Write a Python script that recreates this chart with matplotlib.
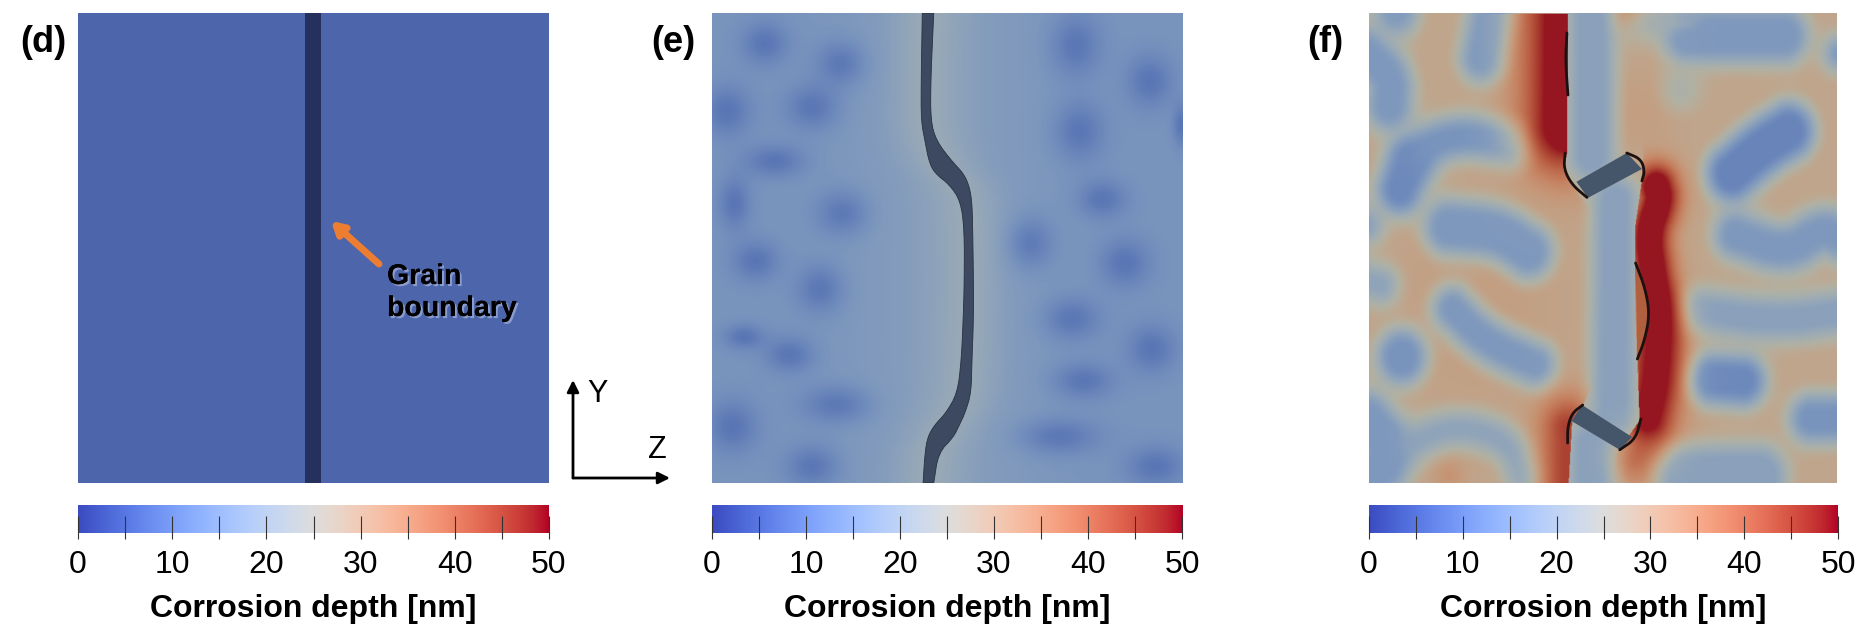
import numpy as np
import matplotlib
matplotlib.use("Agg")
import matplotlib.pyplot as plt
import matplotlib.patheffects as pe
from matplotlib.colors import ListedColormap
from matplotlib.path import Path

plt.rcParams['font.family'] = ['Liberation Sans', 'DejaVu Sans']

W, H = 1857, 630
PANEL_LABELS = ["(d)", "(e)", "(f)"]
CBAR_LABEL = "Corrosion depth [nm]"
CBAR_TICKS = [0, 5, 10, 15, 20, 25, 30, 35, 40, 45, 50]
CBAR_TICK_LABELS = ["0", "", "10", "", "20", "", "30", "", "40", "", "50"]

# panel (d), flat field with a straight boundary
D_DEPTH = 6.0
D_GB = [48.2, 51.6]

# panel (e): pits, x, y, rx, ry
E_BASE = 14.0
E_PITS = [(325, 105, 48, 42), (525, 155, 52, 45), (225, 275, 50, 50), (450, 265, 55, 45),
          (350, 400, 62, 32), (245, 505, 33, 52), (530, 530, 55, 45), (300, 650, 48, 40),
          (470, 720, 48, 48), (270, 840, 42, 25), (390, 885, 50, 35), (515, 1010, 72, 38),
          (240, 1065, 52, 52), (450, 1165, 55, 42), (1140, 110, 52, 62), (1335, 200, 48, 52),
          (1150, 325, 52, 58), (1418, 310, 18, 40), (1210, 495, 50, 38), (1020, 605, 48, 52),
          (1270, 655, 52, 48), (1130, 795, 58, 42), (1340, 870, 50, 48), (1160, 950, 62, 36),
          (1095, 1090, 82, 36), (1350, 1165, 60, 40)]
E_GB_Y = [30, 200, 300, 350, 400, 430, 460, 500, 570, 700, 800, 900, 980, 1030, 1060, 1090, 1130, 1205]
E_GB_LEFT = [738, 735, 735, 745, 755, 770, 810, 838, 848, 848, 845, 840, 830, 800, 770, 752, 745, 740]
E_GB_RIGHT = [768, 760, 760, 775, 815, 845, 860, 868, 870, 872, 872, 868, 866, 850, 835, 820, 780, 768]

# panel (f): shallow regions as strokes, radius and depth
F_BASE = 29.0
F_SHALLOW = [
    ([(185, 130), (255, 190), (250, 260)], 66, 15),
    ([(270, 25)], 62, 16),
    ([(515, 140), (540, 20)], 64, 15),
    ([(315, 400), (380, 350), (480, 335), (600, 360)], 54, 14),
    ([(310, 400), (280, 470)], 66, 12),
    ([(420, 565), (560, 575), (645, 625)], 72, 15),
    ([(185, 560)], 44, 17),
    ([(185, 700), (225, 710)], 48, 18),
    ([(285, 890)], 72, 14),
    ([(430, 770), (520, 850), (665, 910)], 58, 15),
    ([(185, 1050), (260, 1130), (185, 1205)], 78, 15),
    ([(300, 1110), (440, 1060), (590, 1100), (630, 1190)], 46, 18),
    ([(1100, 85), (1250, 85), (1370, 85)], 72, 15),
    ([(950, 45), (1100, 60)], 44, 22),
    ([(1080, 220)], 50, 24),
    ([(1385, 325), (1310, 365), (1225, 430)], 74, 11),
    ([(1235, 585), (1380, 630), (1480, 570), (1530, 590)], 62, 15),
    ([(1530, 130)], 42, 15),
    ([(1130, 775), (1350, 800), (1530, 780)], 56, 17),
    ([(1165, 945), (1255, 950)], 66, 12),
    ([(1450, 1045), (1530, 1045)], 62, 14),
    ([(1090, 1190), (1300, 1190)], 82, 17),
    ([(825, 20), (825, 385)], 68, 17),
    ([(892, 500), (888, 1050)], 66, 17),
    ([(825, 1110), (825, 1215)], 68, 17),
]
F_WARM = [(500, 760, 260, 2), (960, 280, 110, 2), (950, 1140, 75, 9), (930, 25, 45, 8), (420, 1190, 50, 4)]
# deep zones next to the boundary: mask outline, source line, width, gain
F_DEEP_MASKS = [[(193, 30), (758, 30), (755, 380), (745, 420), (800, 500), (830, 530), (830, 760), (193, 760)],
                [(975, 330), (1300, 330), (1300, 1210), (880, 1210), (900, 1125), (962, 1050),
                 (950, 800), (950, 560), (968, 450)],
                [(952, 700), (1300, 700), (1300, 1210), (880, 1210), (900, 1125), (962, 1050)],
                [(193, 850), (825, 850), (825, 970), (800, 1010), (770, 1050), (760, 1205), (193, 1205)]]
F_DEEP_LINES = [[(758, 30), (755, 310)],
                [(1010, 465), (1020, 495), (985, 580), (1000, 680), (1020, 780), (1010, 950), (985, 1040)],
                [(990, 850), (980, 1020)],
                [(760, 1070), (760, 1205)]]
F_DEEP_WIDTH = [128, 62, 100, 85]
F_DEEP_GAIN = [1.3, 1.35, 0.6, 0.85]
F_GB_BANDS = [[(782, 452), (925, 380), (968, 420), (815, 492)],
              [(798, 1010), (940, 1090), (905, 1122), (768, 1050)]]
F_GB_EDGES = [[(755, 80), (751, 150), (758, 235)],
              [(750, 380), (746, 420), (770, 460), (812, 491)],
              [(925, 380), (965, 395), (976, 425), (968, 450)],
              [(800, 1010), (770, 1030), (757, 1065), (757, 1105)],
              [(965, 1045), (950, 1095), (905, 1122)],
              [(950, 655), (978, 720), (990, 785), (975, 850), (955, 895)]]

cmap_bar = plt.get_cmap("coolwarm")
cmap_lit = ListedColormap(cmap_bar(np.linspace(0, 1, 256))[:, :3] * np.array([0.8, 0.8, 0.74]))


def add_axes_px(x0, y0, x1, y1):
    return fig.add_axes([x0 / W, 1 - y1 / H, (x1 - x0) / W, (y1 - y0) / H])


def smooth_pts(pts, n=3):
    # corner cutting so read outlines do not look faceted
    pts = np.array(pts, float)
    if len(pts) < 3:
        return pts
    for _ in range(n):
        q = 0.75 * pts[:-1] + 0.25 * pts[1:]
        r = 0.25 * pts[:-1] + 0.75 * pts[1:]
        mid = np.empty((2 * len(q), 2))
        mid[0::2] = q
        mid[1::2] = r
        pts = np.vstack([pts[0], mid, pts[-1]])
    return pts


def line_dist(xx, yy, pts):
    if len(pts) == 1:
        return np.hypot(xx - pts[0][0], yy - pts[0][1])
    d = np.full(xx.shape, np.inf)
    for (ax_, ay_), (bx_, by_) in zip(pts[:-1], pts[1:]):
        dx, dy = bx_ - ax_, by_ - ay_
        t = np.clip(((xx - ax_) * dx + (yy - ay_) * dy) / (dx * dx + dy * dy), 0, 1)
        d = np.minimum(d, np.hypot(xx - ax_ - t * dx, yy - ay_ - t * dy))
    return d


def e_field():
    x = np.linspace(187, 1421, 500)
    y = np.linspace(30, 1205, 480)
    xx, yy = np.meshgrid(x, y)
    z = np.full(xx.shape, E_BASE)
    for px, py, rx, ry in E_PITS:
        z -= 5.5 * np.exp(-((xx - px) / (rx * 1.25)) ** 2 - ((yy - py) / (ry * 1.25)) ** 2)
    centre = (np.array(E_GB_LEFT) + np.array(E_GB_RIGHT)) / 2
    gb_x = np.interp(yy, E_GB_Y, centre)
    z += 3.5 * np.exp(-((xx - gb_x) / 85) ** 2) + 2.5 * np.exp(-((xx - 790) / 240) ** 2)
    return z


def f_field():
    x = np.linspace(193, 1522, 640)
    y = np.linspace(30, 1205, 560)
    xx, yy = np.meshgrid(x, y)
    z = np.full(xx.shape, F_BASE)
    for px, py, s, a in F_WARM[:2]:
        z += a * np.exp(-((xx - px) / s) ** 2 - ((yy - py) / s) ** 2)
    # smooth union of the strokes so neighbours merge
    k = 18.0
    soft = 44.0
    acc = np.zeros(xx.shape)
    acc_lev = np.zeros(xx.shape)
    for pts, r, lev in F_SHALLOW:
        d = line_dist(xx, yy, smooth_pts(pts, 2)) - r
        e = np.exp(np.clip(-d / k, -40, 12))
        acc += e
        acc_lev += e * lev
    sd = -k * np.log(acc + 1e-30)
    level = acc_lev / (acc + 1e-30)
    t = np.clip((soft - sd) / (2 * soft), 0, 1)
    t = t * t * (3 - 2 * t)
    z = z + (level - z) * t
    for px, py, s, a in F_WARM[2:]:
        z += a * np.exp(-((xx - px) / s) ** 2 - ((yy - py) / s) ** 2)
    pts2 = np.column_stack([xx.ravel(), yy.ravel()])
    for mask, src, w, gain in zip(F_DEEP_MASKS, F_DEEP_LINES, F_DEEP_WIDTH, F_DEEP_GAIN):
        m = Path(mask).contains_points(pts2).reshape(xx.shape)
        d = line_dist(xx, yy, smooth_pts(src, 2))
        a = np.minimum(gain * np.exp(-(d / w) ** 2), 1.0)
        z = np.where(m, z + (49 - z) * a, z)
    return z


fig = plt.figure(figsize=(W / 100, H / 100), dpi=100)

panels = [(78, 549), (712, 1183), (1369, 1837)]
cbars = [(78, 549), (712, 1182), (1369, 1838)]
top, bottom = 13, 483

# panel d
ax = add_axes_px(panels[0][0], top, panels[0][1], bottom)
ax.imshow([[D_DEPTH]], cmap=cmap_lit, vmin=0, vmax=50, extent=(0, 100, 100, 0), aspect="auto")
ax.axvspan(D_GB[0], D_GB[1], color="#26305c", lw=0)
ax.axis("off")

# panel e
ax = add_axes_px(panels[1][0], top, panels[1][1], bottom)
ax.imshow(e_field(), cmap=cmap_lit, vmin=0, vmax=50, extent=(187, 1421, 1205, 30),
          aspect="auto", interpolation="bilinear")
left = smooth_pts(np.column_stack([E_GB_LEFT, E_GB_Y]), 2)
right = smooth_pts(np.column_stack([E_GB_RIGHT, E_GB_Y]), 2)
ax.fill(np.r_[left[:, 0], right[::-1, 0]], np.r_[left[:, 1], right[::-1, 1]],
        facecolor="#3c4960", edgecolor="#2a3040", lw=0.6)
ax.set_xlim(187, 1421)
ax.set_ylim(1205, 30)
ax.axis("off")

# panel f
ax = add_axes_px(panels[2][0], top, panels[2][1], bottom)
ax.imshow(f_field(), cmap=cmap_lit, vmin=0, vmax=50, extent=(193, 1522, 1205, 30),
          aspect="auto", interpolation="bilinear")
for band in F_GB_BANDS:
    ax.fill(*zip(*band), facecolor="#46566a", edgecolor="none")
ax.fill(*smooth_pts(F_GB_EDGES[5]).T, facecolor="#b0603f", edgecolor="none")
for edge in F_GB_EDGES:
    ax.plot(*smooth_pts(edge).T, color="#1d1110", lw=2, solid_capstyle="round")
ax.set_xlim(193, 1522)
ax.set_ylim(1205, 30)
ax.axis("off")

# colorbars
grad = np.linspace(0, 50, 512)[None, :]
for (x0, x1) in cbars:
    cax = add_axes_px(x0, 505, x1, 533)
    cax.imshow(grad, cmap=cmap_bar, vmin=0, vmax=50, extent=(0, 50, 0, 1), aspect="auto")
    cax.vlines(CBAR_TICKS, -0.2, 0.6, color="#333333", lw=0.8, clip_on=False)
    cax.set_ylim(0, 1)
    cax.set_xlim(0, 50)
    cax.set_yticks([])
    for s in cax.spines.values():
        s.set_visible(False)
    cax.set_xticks(CBAR_TICKS)
    cax.set_xticklabels(CBAR_TICK_LABELS, fontsize=23)
    cax.tick_params(axis="x", length=0, pad=12)
    cax.set_xlabel(CBAR_LABEL, fontsize=23, fontweight="bold", labelpad=10)

# overlay in picture pixels for labels and arrows
ov = fig.add_axes([0, 0, 1, 1], zorder=5)
ov.set_xlim(0, W)
ov.set_ylim(H, 0)
ov.axis("off")
ov.patch.set_alpha(0)
for (lx, txt) in zip([20, 651, 1307], PANEL_LABELS):
    ov.text(lx, 42, txt, fontsize=26, fontweight="bold", va="center", ha="left")

ov.annotate("", xy=(331, 221), xytext=(379, 264),
            arrowprops=dict(arrowstyle="-|>,head_width=0.4,head_length=0.7", color="#ed7d31",
                            lw=5, shrinkA=0, shrinkB=0))
ov.text(387, 293, "Grain\nboundary", fontsize=20.5, fontweight="bold", va="center", ha="left",
        linespacing=1.3,
        path_effects=[pe.withSimplePatchShadow(offset=(1.5, -1.5), shadow_rgbFace="#c8d2ee", alpha=0.5),
                      pe.Normal()])

ov.annotate("", xy=(573, 380), xytext=(573, 478),
            arrowprops=dict(arrowstyle="-|>,head_width=0.35,head_length=0.7", color="black",
                            lw=2, shrinkA=0, shrinkB=0))
ov.annotate("", xy=(670, 478), xytext=(573, 478),
            arrowprops=dict(arrowstyle="-|>,head_width=0.35,head_length=0.7", color="black",
                            lw=2, shrinkA=0, shrinkB=0))
ov.text(598, 394, "Y", fontsize=22, va="center", ha="center")
ov.text(657, 450, "Z", fontsize=22, va="center", ha="center")

fig.savefig("out.png", dpi=100)
